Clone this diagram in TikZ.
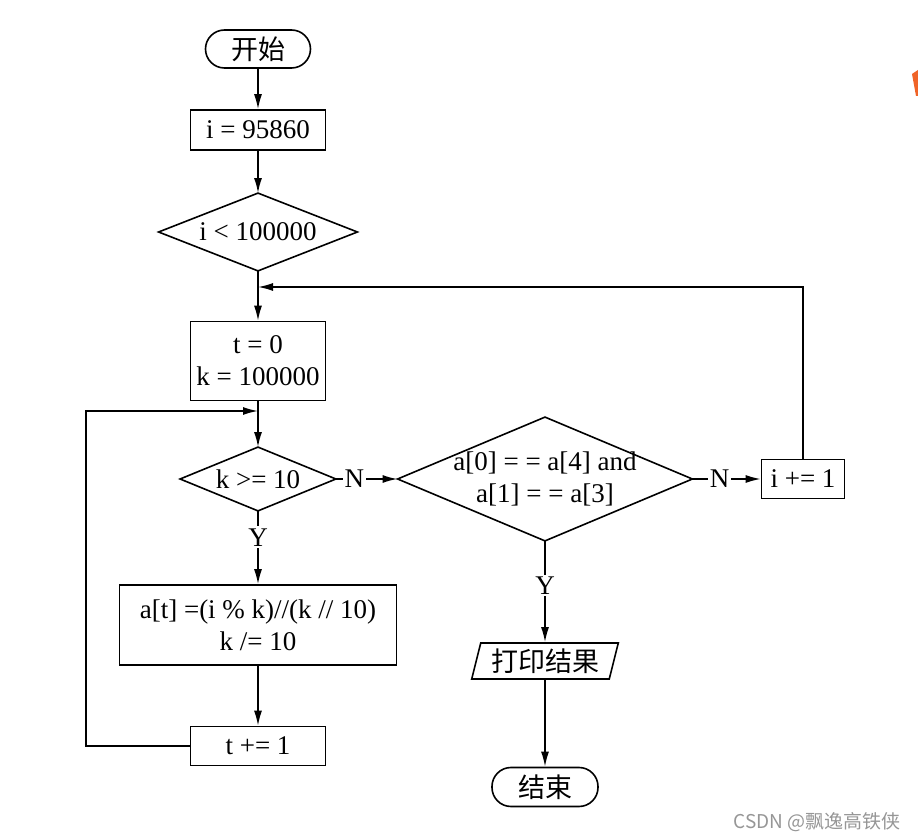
\documentclass[tikz,border=0pt]{standalone}
\usepackage{fontspec}
\setmainfont{Liberation Serif}
\newfontfamily\cjk{Noto Sans CJK SC}
\usetikzlibrary{shapes.geometric,arrows.meta}
\definecolor{markorange}{RGB}{240,100,40}
\definecolor{wmgray}{RGB}{150,150,150}
\tikzset{
  every node/.style={font=\fontsize{13.5}{16}\selectfont},
  flowline/.style={line width=0.8pt},
  arrowline/.style={flowline,-{Latex[length=7.5pt,width=4pt]}},
  termbox/.style={draw,line width=0.8pt,rounded corners=9.5pt,inner sep=0pt},
  procbox/.style={draw,line width=0.8pt,inner sep=0pt,align=center},
  testbox/.style={inner sep=0pt,align=center},
  iobox/.style={draw,line width=0.8pt,trapezium,trapezium left angle=73,trapezium right angle=107,trapezium stretches=true,inner sep=0pt},
  yn/.style={fill=white,inner sep=1pt}
}
\newcommand{\testshape}[1]{\draw[flowline] (#1.north) -- (#1.east) -- (#1.south) -- (#1.west) -- cycle;}
\begin{document}
\begin{tikzpicture}[x=0.5pt,y=-0.5pt]
\useasboundingbox (0,0) rectangle (918,840);
\node[termbox,minimum width=52.5pt,minimum height=19pt] (start) at (258,49) {\cjk 开始}; % start
\node[procbox,minimum width=67.5pt,minimum height=20pt] (init) at (258,130) {i = 95860}; % i init
\node[testbox,minimum width=99pt,minimum height=38.5pt] (testi) at (258,232) {i < 100000}; % outer test
\node[procbox,minimum width=67.5pt,minimum height=39.5pt] (tk) at (258,361) {t = 0\\k = 100000}; % t, k init
\node[testbox,minimum width=77.5pt,minimum height=31.5pt] (testk) at (258,479) {k >= 10}; % inner test
\node[procbox,minimum width=138.5pt,minimum height=40pt] (digit) at (258,625) {a[t] =(i \% k)//(k // 10)\\k /= 10}; % digit
\node[procbox,minimum width=67.5pt,minimum height=19.5pt] (inct) at (258,746) {t += 1}; % t step
\node[testbox,minimum width=147pt,minimum height=61.5pt] (pal) at (545,479) {a[0] = = a[4] and\\a[1] = = a[3]}; % palindrome test
\node[procbox,minimum width=41.5pt,minimum height=19.5pt] (inci) at (803,479) {i += 1}; % i step
\node[iobox,minimum width=73.5pt,minimum height=18pt] (print) at (545,661) {\cjk 打印结果}; % output
\node[termbox,minimum width=53pt,minimum height=19.5pt] (stop) at (545,787) {\cjk 结束}; % end
\testshape{testi}
\testshape{testk}
\testshape{pal}
\coordinate (backi) at (258,287); % outer loop entry
\coordinate (backk) at (258,411); % inner loop entry
\coordinate (loopk) at (86,411);
\coordinate (loopi) at (803,287);
\draw[arrowline] (start) -- (init);
\draw[arrowline] (init) -- (testi);
\draw[arrowline] (testi) -- (tk);
\draw[arrowline] (tk) -- (testk);
\draw[arrowline] (testk) -- node[yn,pos=0.36] {Y} (digit);
\draw[arrowline] (digit) -- (inct);
\draw[arrowline] (inct.west) -- (inct.west -| loopk) -- (loopk) -- (backk);
\draw[arrowline] (testk) -- node[yn,pos=0.3] {N} (pal);
\draw[arrowline] (pal) -- node[yn,pos=0.4] {N} (inci);
\draw[arrowline] (inci) -- (loopi) -- (backi);
\draw[arrowline] (pal) -- node[yn,pos=0.44] {Y} (print);
\draw[arrowline] (print) -- (stop);
\fill[markorange] (912,74) -- (918,70) -- (918,96) -- (916,96) -- cycle; % corner mark
\node[text=wmgray,font=\cjk\fontsize{9.5}{11}\selectfont] (mark) at (817,822) {CSDN @飘逸高铁侠}; % watermark
\end{tikzpicture}
\end{document}
